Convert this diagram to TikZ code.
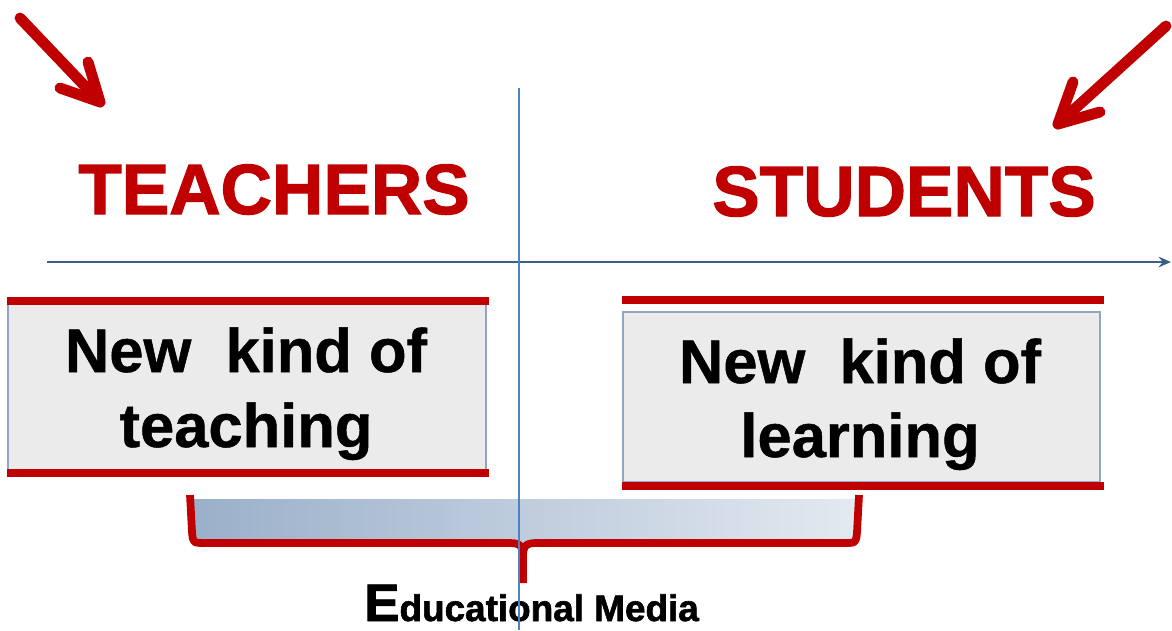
\documentclass[tikz,border=0pt]{standalone}
\usepackage{fontspec}
\setmainfont{Liberation Sans}
\newfontfamily\heavyfont[FakeBold=1.6]{Liberation Sans Bold}
\newfontfamily\boldfont[FakeBold=0.8]{Liberation Sans Bold}
\usetikzlibrary{arrows.meta}
\definecolor{slidered}{HTML}{C00000}
\definecolor{axisblue}{HTML}{3A5F8A}
\definecolor{splitblue}{HTML}{4F81BD}
\definecolor{boxgray}{HTML}{EBEBEB}
\definecolor{boxedge}{HTML}{8FA7C4}
\begin{document}
\begin{tikzpicture}[x=0.02cm,y=-0.02cm,
	pointer/.style={slidered,line width=6.2pt,line cap=round,line join=round},
	redbar/.style={slidered,line width=4.6pt},
	redbrace/.style={slidered,line width=4.4pt,line join=round},
	heading/.style={text=slidered,font=\heavyfont\fontsize{40.5}{48}\selectfont,anchor=base,inner sep=0pt},
	boxtext/.style={font=\boldfont\fontsize{35}{42}\selectfont,anchor=base,inner sep=0pt}]
		\useasboundingbox (0,0) rectangle (1172,630);
		% red pointers
		\coordinate (ltail) at (20,18);
		\coordinate (ltip) at (100,102);
		\coordinate (lbarbA) at (60,88);
		\coordinate (lbarbB) at (88,62);
		\coordinate (rtail) at (1166,26);
		\coordinate (rtip) at (1058,124);
		\coordinate (rbarbA) at (1073,82);
		\coordinate (rbarbB) at (1100,112);
		\draw[pointer] (ltail) -- (ltip);
		\draw[pointer] (lbarbA) -- (ltip) -- (lbarbB);
		\draw[pointer] (rtail) -- (rtip);
		\draw[pointer] (rbarbA) -- (rtip) -- (rbarbB);
		% headings
		\node[heading] (teachers) at (274,214) {TEACHERS};
		\node[heading] (students) at (904,216) {STUDENTS};
		% axis
		\coordinate (axisL) at (47,262);
		\coordinate (axisR) at (1171,262);
		\draw[axisblue,line width=1.3pt,-{Stealth[length=7pt,width=6pt]}] (axisL) -- (axisR);
		% boxes
		\fill[boxgray] (8,302) rectangle (486,473);
		\draw[boxedge,line width=0.8pt] (8,302) -- (8,473) (486,302) -- (486,473);
		\draw[redbar] (7,301) -- (489,301);
		\draw[redbar] (7,473) -- (489,473);
		\fill[boxgray] (623,312) rectangle (1100,482);
		\draw[boxedge,line width=0.8pt] (623,312) rectangle (1100,482);
		\draw[redbar] (622,300) -- (1104,300);
		\draw[redbar] (622,486) -- (1104,486);
		\node[boxtext] (teachA) at (246,372) {New\ \ kind of};
		\node[boxtext] (teachB) at (246,447) {teaching};
		\node[boxtext] (learnA) at (860,383) {New\ \ kind of};
		\node[boxtext] (learnB) at (860,457) {learning};
		% media bracket
		\shade[left color=boxedge!90!white,right color=boxedge!25!white] (194,499) rectangle (856,541);
		\draw[redbrace] (190,495) -- (192,532) .. controls (193,543) .. (205,543) -- (510,543)
			.. controls (522,543) and (523,548) .. (523,556) -- (523,583);
		\draw[redbrace] (859,495) -- (857,532) .. controls (856,543) .. (844,543) -- (536,543)
			.. controls (524,543) and (523,548) .. (523,556);
		\node[anchor=base west,inner sep=0pt,font=\heavyfont\fontsize{21}{24}\selectfont] (media) at (364,621)
			{{\fontsize{30}{30}\selectfont E}ducational Media};
		% split line
		\coordinate (splitT) at (519,88);
		\coordinate (splitB) at (519,630);
		\draw[splitblue,line width=1.1pt] (splitT) -- (splitB);
	\end{tikzpicture}
\end{document}
